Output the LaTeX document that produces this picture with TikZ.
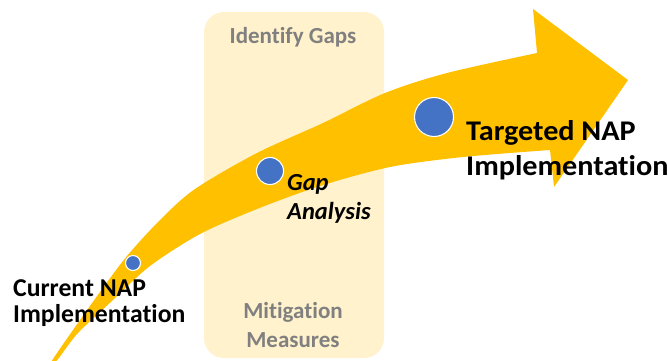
\documentclass[tikz,border=0pt]{standalone}
\usepackage{fontspec}
\setmainfont[Ligatures=NoCommon]{Carlito}
\newfontfamily\widecarlito[Ligatures=NoCommon, FakeStretch=1.06]{Carlito}
\definecolor{arrowgold}{HTML}{FFC000}
\definecolor{panelcream}{HTML}{FFF2CC}
\definecolor{dotblue}{HTML}{4472C4}
\definecolor{panelgray}{HTML}{808080}

\begin{document}
\begin{tikzpicture}[x=1pt,y=-1pt,
  stage/.style={circle, fill=dotblue, draw=white, line width=1.1pt, inner sep=0pt},
  milestone/.style={font=\fontsize{25.7}{26}\selectfont\bfseries, text=black, inner sep=0pt, anchor=base west},
  bigmilestone/.style={milestone, font=\widecarlito\fontsize{28.5}{30}\selectfont\bfseries},
  gapmilestone/.style={milestone, font=\fontsize{24.5}{26}\selectfont\bfseries\itshape},
  paneltext/.style={font=\fontsize{23}{24}\selectfont\bfseries, text=panelgray, inner sep=0pt, anchor=base},
]
\useasboundingbox (0,0) rectangle (668,360);
\clip (0,0) rectangle (668,360);

% cream panel behind the path
\fill[panelcream, rounded corners=20pt] (204,12) rectangle (384,358);

% curved progress arrow: upper edge, head, lower edge back to the tail
\fill[arrowgold]
  plot[smooth, tension=0.5] coordinates {(46,372) (53,359) (73,330) (100,292) (127,256) (160,220) (195,189) (257,153) (323,123) (385,93) (447,73) (537,53)}
  -- (533,9) -- (628,80) -- (554,187) -- (550,150)
  -- plot[smooth, tension=0.5] coordinates {(550,150) (463,157) (390,167) (320,186) (257,209) (200,234) (150,266) (113,300) (78,333) (58,359) (46,372)}
  -- cycle;

% milestones on the path
\node[stage, minimum size=15pt] (current) at (133,263) {};
\node[stage, minimum size=27pt] (gap) at (270,171) {};
\node[stage, minimum size=39pt] (target) at (434,117) {};

% labels
\node[milestone] (curA) at (13,296) {Current NAP};
\node[milestone] (curB) at (13,322) {Implementation};
\node[gapmilestone] (gapA) at (287,190) {Gap};
\node[gapmilestone] (gapB) at (287,219) {Analysis};
\node[bigmilestone] (tgtA) at (466,140) {Targeted NAP};
\node[bigmilestone] (tgtB) at (466,175) {Implementation};

% panel captions
\node[paneltext] (identify) at (293,43) {Identify Gaps};
\node[paneltext] (mitA) at (293,318) {Mitigation};
\node[paneltext] (mitB) at (293,347) {Measures};
\end{tikzpicture}
\end{document}
